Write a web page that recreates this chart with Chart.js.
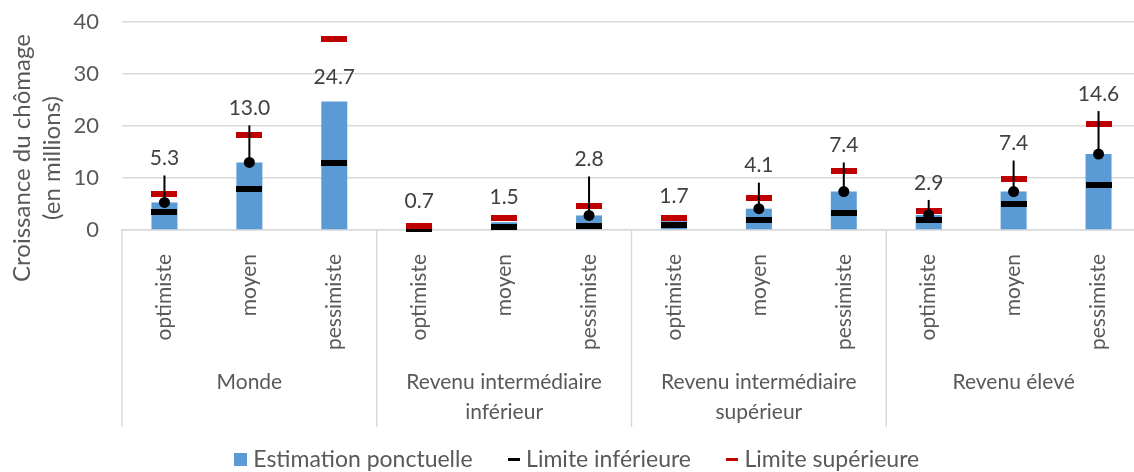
<!DOCTYPE html>
<html lang="fr">
<head>
<meta charset="utf-8">
<title>Croissance du chômage</title>
<script src="https://cdn.jsdelivr.net/npm/chart.js@4.4.1/dist/chart.umd.min.js"></script>
<style>
  html, body { margin: 0; padding: 0; background: #fff; overflow: hidden; }
  #wrap { width: 1134px; height: 472px; overflow: hidden; }
</style>
</head>
<body>
<div id="wrap"><canvas id="chart" width="1146" height="481"></canvas></div>
<script>
// Data
const scenarios = ['optimiste', 'moyen', 'pessimiste', 'optimiste', 'moyen', 'pessimiste',
                   'optimiste', 'moyen', 'pessimiste', 'optimiste', 'moyen', 'pessimiste'];
const groupLabels = [['Monde'], ['Revenu intermédiaire', 'inférieur'],
                     ['Revenu intermédiaire', 'supérieur'], ['Revenu élevé']];
const pointEstimate = [5.3, 13.0, 24.7, 0.7, 1.5, 2.8, 1.7, 4.1, 7.4, 2.9, 7.4, 14.6];
const lowerBound = [3.5, 7.8, 12.9, 0.2, 0.6, 0.8, 1.0, 1.9, 3.3, 1.9, 5.0, 8.7];
const upperBound = [7.0, 18.3, 36.7, 0.8, 2.3, 4.6, 2.4, 6.1, 11.3, 3.7, 9.8, 20.4];
const yTicks = [0, 10, 20, 30, 40];
const yTitle = ['Croissance du chômage', '(en millions)'];

// how far (px) each value label sits above its bar; long ones get a leader line
const labelLift = [44, 54, 24, 25, 25, 56, 25, 43, 46, 32, 48, 60];

const FONT = 'Lato, "Open Sans", sans-serif';
const TEXT = '#595959';
const GRID = '#d9d9d9';
const LEFT_PAD = 16;

function dash(color, w, h) {
    const c = document.createElement('canvas');
    c.width = w;
    c.height = h;
    const g = c.getContext('2d');
    g.fillStyle = color;
    g.fillRect(0, 0, w, h);
    return c;
}

const lowerMark = dash('#000000', 26, 6);
const upperMark = dash('#c00000', 26, 6);
const legendMarks = [dash('#5b9bd5', 13, 13), dash('#000000', 12, 3), dash('#c00000', 12, 3)];

// value labels, leader lines and dots
const valueLabels = {
    id: 'valueLabels',
    afterDatasetsDraw(chart) {
        const ctx = chart.ctx;
        const bars = chart.getDatasetMeta(0).data;
        ctx.save();
        ctx.font = '21px ' + FONT;
        ctx.textAlign = 'center';
        ctx.textBaseline = 'middle';
        bars.forEach((bar, i) => {
            const ly = bar.y - labelLift[i];
            if (labelLift[i] > 30) {
                ctx.strokeStyle = '#000';
                ctx.lineWidth = 2;
                ctx.beginPath();
                ctx.moveTo(bar.x, ly + 17);
                ctx.lineTo(bar.x, bar.y);
                ctx.stroke();
                ctx.fillStyle = '#000';
                ctx.beginPath();
                ctx.arc(bar.x, bar.y, 5.5, 0, Math.PI * 2);
                ctx.fill();
            }
            ctx.fillStyle = '#404040';
            ctx.fillText(pointEstimate[i].toFixed(1), bar.x, ly);
        });
        ctx.restore();
    }
};

// group separators and group names under the scenario labels
const groupAxis = {
    id: 'groupAxis',
    afterDraw(chart) {
        const ctx = chart.ctx;
        const xs = chart.scales.x;
        const perGroup = scenarios.length / groupLabels.length;
        const step = (xs.right - xs.left) / scenarios.length;
        const top = chart.chartArea.bottom;
        ctx.save();
        ctx.strokeStyle = GRID;
        ctx.lineWidth = 1.5;
        for (let g = 0; g <= groupLabels.length; g++) {
            const x = xs.left + g * perGroup * step;
            ctx.beginPath();
            ctx.moveTo(x, top);
            ctx.lineTo(x, top + 197);
            ctx.stroke();
        }
        ctx.fillStyle = TEXT;
        ctx.font = '21px ' + FONT;
        ctx.textAlign = 'center';
        ctx.textBaseline = 'middle';
        groupLabels.forEach((lines, g) => {
            const cx = xs.left + (g * perGroup + perGroup / 2) * step;
            lines.forEach((t, k) => ctx.fillText(t, cx, top + 152 + k * 30));
        });

        // y axis title, two rotated lines
        ctx.font = '24px ' + FONT;
        ctx.translate(0, 158);
        ctx.rotate(-Math.PI / 2);
        ctx.fillText(yTitle[0], 0, 22);
        ctx.fillText(yTitle[1], 0, 52);
        ctx.restore();
    }
};

const ctx = document.getElementById('chart').getContext('2d');
new Chart(ctx, {
    data: {
        labels: scenarios,
        datasets: [
            {
                type: 'bar',
                label: 'Estimation ponctuelle',
                data: pointEstimate,
                backgroundColor: '#5b9bd5',
                categoryPercentage: 1,
                barPercentage: 0.306,
                order: 3
            },
            {
                type: 'line',
                label: 'Limite inférieure',
                data: lowerBound,
                showLine: false,
                pointStyle: lowerMark,
                backgroundColor: '#000000',
                clip: false,
                order: 2
            },
            {
                type: 'line',
                label: 'Limite supérieure',
                data: upperBound,
                showLine: false,
                pointStyle: upperMark,
                backgroundColor: '#c00000',
                clip: false,
                order: 1
            }
        ]
    },
    options: {
        responsive: false,
        animation: false,
        layout: {
            padding: { top: 22, right: 3, left: LEFT_PAD, bottom: 0 }
        },
        plugins: {
            tooltip: { enabled: false },
            legend: {
                position: 'bottom',
                labels: {
                    color: TEXT,
                    font: { family: FONT, size: 23 },
                    usePointStyle: true,
                    boxHeight: 13,
                    pointStyleWidth: 2,
                    padding: 40,
                    generateLabels(chart) {
                        return chart.data.datasets.map((ds, i) => ({
                            text: ds.label,
                            pointStyle: legendMarks[i],
                            fillStyle: ds.backgroundColor,
                            strokeStyle: ds.backgroundColor,
                            lineWidth: 0,
                            fontColor: TEXT,
                            hidden: false,
                            datasetIndex: i
                        }));
                    }
                }
            }
        },
        scales: {
            x: {
                grid: { display: false },
                border: { color: GRID, width: 1.5 },
                ticks: {
                    color: TEXT,
                    font: { family: FONT, size: 21 },
                    minRotation: 90,
                    maxRotation: 90,
                    autoSkip: false,
                    padding: 16
                },
                afterFit(scale) { scale.height = 178; }
            },
            y: {
                min: yTicks[0],
                max: yTicks[yTicks.length - 1],
                border: { display: false },
                grid: { color: GRID, lineWidth: 1.5, drawTicks: false },
                ticks: {
                    stepSize: yTicks[1] - yTicks[0],
                    color: TEXT,
                    font: { family: FONT, size: 22 },
                    padding: 23
                },
                afterFit(scale) {
                    scale.width = 122 - LEFT_PAD;
                    scale.paddingTop = 0;
                    scale.paddingBottom = 0;
                }
            }
        }
    },
    plugins: [valueLabels, groupAxis]
});
</script>
</body>
</html>
